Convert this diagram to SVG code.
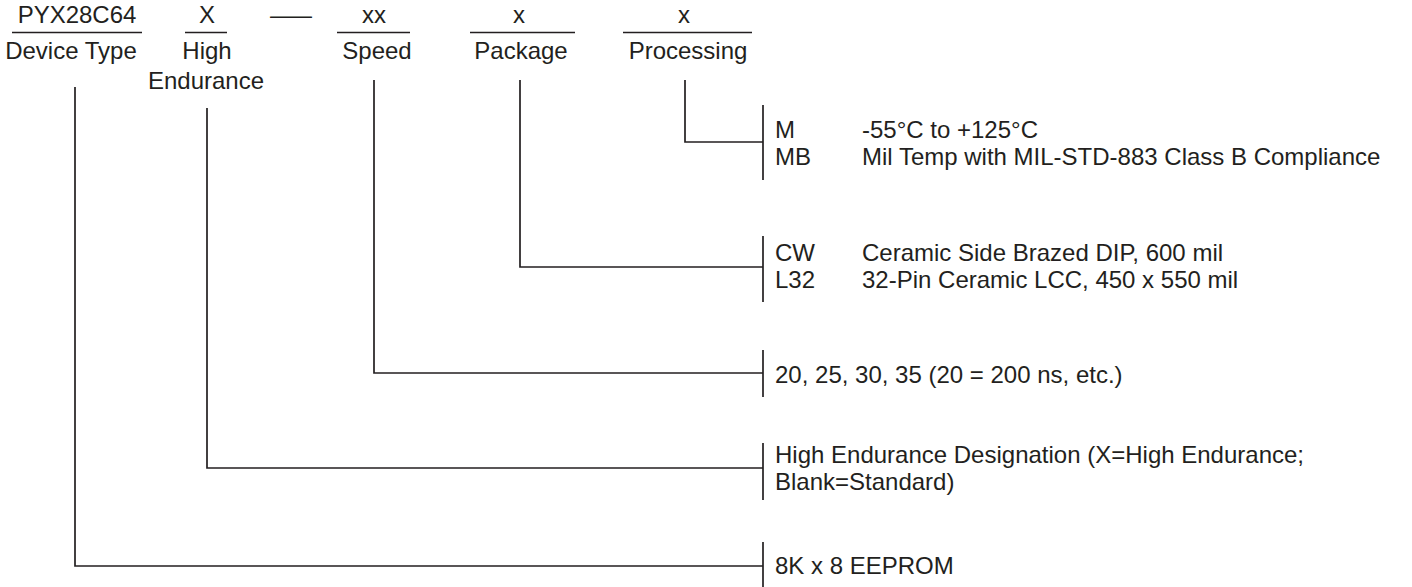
<svg xmlns="http://www.w3.org/2000/svg" width="1412" height="587" viewBox="0 0 1412 587">
<style>
text{font-family:"Liberation Sans",Arial,sans-serif;font-size:24px;fill:#231f20}
.c{text-anchor:middle}
line,polyline{stroke:#231f20;stroke-width:1.7;fill:none}
</style>
<rect width="1412" height="587" fill="#fff"/>
<g id="hdr-device">
<text class="c" x="77" y="23">PYX28C64</text>
<line x1="12" y1="32.5" x2="142" y2="32.5"/>
<text class="c" x="71" y="59">Device Type</text>
</g>
<g id="hdr-endurance">
<text class="c" x="207" y="23">X</text>
<line x1="185" y1="32.5" x2="227" y2="32.5"/>
<text class="c" x="207" y="59">High</text>
<text class="c" x="206" y="89">Endurance</text>
</g>
<g id="hdr-dash">
<text x="270" y="23" textLength="42" lengthAdjust="spacingAndGlyphs">—</text>
</g>
<g id="hdr-speed">
<text class="c" x="374" y="23">xx</text>
<line x1="337" y1="32.5" x2="410" y2="32.5"/>
<text class="c" x="377" y="59">Speed</text>
</g>
<g id="hdr-package">
<text class="c" x="519" y="23">x</text>
<line x1="470" y1="32.5" x2="575" y2="32.5"/>
<text class="c" x="521" y="59">Package</text>
</g>
<g id="hdr-processing">
<text class="c" x="684" y="23">x</text>
<line x1="623" y1="32.5" x2="752" y2="32.5"/>
<text class="c" x="688" y="59">Processing</text>
</g>
<g id="connectors">
<polyline points="685,80 685,142 763,142"/>
<polyline points="520,80 520,267 763,267"/>
<polyline points="374,80 374,373 763,373"/>
<polyline points="207,108 207,468 763,468"/>
<polyline points="75,87 75,566 763,566"/>
</g>
<g id="opt-processing">
<line x1="763" y1="105" x2="763" y2="180"/>
<text x="775" y="138">M</text>
<text x="862" y="138">-55°C to +125°C</text>
<text x="775" y="165">MB</text>
<text x="862" y="165">Mil Temp with MIL-STD-883 Class B Compliance</text>
</g>
<g id="opt-package">
<line x1="763" y1="236" x2="763" y2="302"/>
<text x="775" y="261">CW</text>
<text x="862" y="261">Ceramic Side Brazed DIP, 600 mil</text>
<text x="775" y="288">L32</text>
<text x="862" y="288">32-Pin Ceramic LCC, 450 x 550 mil</text>
</g>
<g id="opt-speed">
<line x1="763" y1="350" x2="763" y2="397"/>
<text x="775" y="383">20, 25, 30, 35 (20 = 200 ns, etc.)</text>
</g>
<g id="opt-endurance">
<line x1="763" y1="443" x2="763" y2="500"/>
<text x="775" y="463">High Endurance Designation (X=High Endurance;</text>
<text x="775" y="490">Blank=Standard)</text>
</g>
<g id="opt-device">
<line x1="763" y1="542" x2="763" y2="587"/>
<text x="775" y="574">8K x 8 EEPROM</text>
</g>
</svg>
